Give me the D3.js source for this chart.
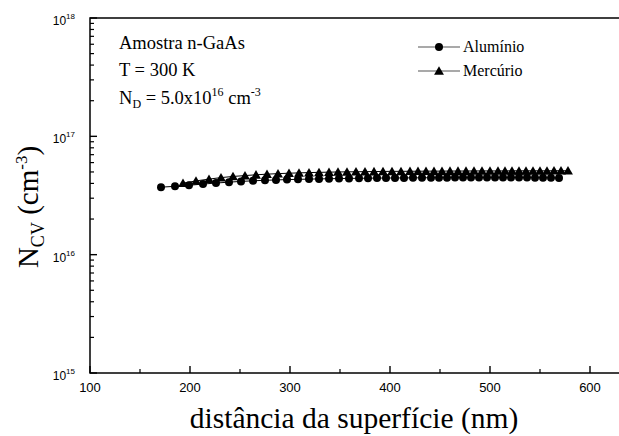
<!DOCTYPE html>
<html>
<head>
<meta charset="utf-8">
<script src="https://cdn.jsdelivr.net/npm/d3@7/dist/d3.min.js"></script>
<style>
  html, body { margin: 0; padding: 0; background: #fff; }
  svg { display: block; }
</style>
</head>
<body>
<svg id="plot" width="619" height="436"></svg>
<script>
// C-V carrier profile, two Schottky contacts
const alDepth = [171, 185, 199, 213, 226, 239, 251, 263, 275, 286, 297, 308, 319, 329, 339, 349, 359, 369, 378, 387, 396, 405, 414, 423, 432, 441, 449, 457, 465, 473, 481, 489, 497, 505, 513, 521, 529, 537, 545, 553, 561, 569];
const alN = [3.72, 3.78, 3.86, 3.95, 4.03, 4.10, 4.16, 4.21, 4.25, 4.28, 4.31, 4.33, 4.35, 4.37, 4.38, 4.40, 4.41, 4.42, 4.43, 4.44, 4.44, 4.45, 4.45, 4.46, 4.46, 4.47, 4.47, 4.47, 4.48, 4.48, 4.48, 4.48, 4.49, 4.49, 4.49, 4.49, 4.48, 4.48, 4.47, 4.47, 4.46, 4.45];
const hgDepth = [193, 206, 219, 231, 243, 255, 266, 277, 288, 299, 309, 319, 329, 339, 348, 357, 366, 375, 384, 393, 402, 411, 420, 428, 436, 444, 452, 460, 468, 476, 484, 492, 500, 508, 515, 522, 529, 536, 543, 550, 557, 564, 571, 578];
const hgN = [4.02, 4.20, 4.35, 4.48, 4.58, 4.66, 4.73, 4.79, 4.84, 4.88, 4.91, 4.94, 4.96, 4.98, 5.00, 5.01, 5.02, 5.03, 5.04, 5.05, 5.06, 5.06, 5.07, 5.07, 5.08, 5.08, 5.08, 5.09, 5.09, 5.09, 5.10, 5.10, 5.10, 5.10, 5.10, 5.11, 5.11, 5.11, 5.11, 5.11, 5.11, 5.12, 5.12, 5.12];
const seriesNames = ['Alumínio', 'Mercúrio'];
const xTicks = [100, 200, 300, 400, 500, 600];
const xMinor = [150, 250, 350, 450, 550, 650];
const yExps = [15, 16, 17, 18];

const svg = d3.select('#plot');
const m = {left: 90, top: 18, bottom: 373, right: 640};
const x = d3.scaleLinear().domain([100, 650]).range([m.left, m.right]);
const y = d3.scaleLog().domain([1e15, 1e18]).range([m.bottom, m.top]);

const serif = 'Liberation Serif, Times New Roman, serif';
const sans = 'Liberation Sans, Arial, sans-serif';

const toPts = (xs, vs) => xs.map((d, i) => ({x: d, v: vs[i] * 1e16}));
const al = toPts(alDepth, alN);
const hg = toPts(hgDepth, hgN);

// frame (right side falls outside the picture, as in the scan)
svg.append('rect').attr('x', m.left).attr('y', m.top)
  .attr('width', m.right - m.left).attr('height', m.bottom - m.top)
  .attr('fill', 'none').attr('stroke', '#000').attr('stroke-width', 1.5);

// y ticks (inward), log minor ticks
const yMinor = [];
[15, 16, 17].forEach(e => { for (let k = 2; k <= 9; k++) yMinor.push(k * Math.pow(10, e)); });
svg.append('g').selectAll('line').data(yMinor).join('line')
  .attr('x1', m.left).attr('x2', m.left + 4)
  .attr('y1', d => y(d)).attr('y2', d => y(d))
  .attr('stroke', '#000').attr('stroke-width', 1.2);
svg.append('g').selectAll('line').data(yExps).join('line')
  .attr('x1', m.left).attr('x2', m.left + 7)
  .attr('y1', d => y(Math.pow(10, d))).attr('y2', d => y(Math.pow(10, d)))
  .attr('stroke', '#000').attr('stroke-width', 1.4);

const yl = svg.append('g').selectAll('text').data(yExps).join('text')
  .attr('x', m.left - 15).attr('y', d => y(Math.pow(10, d)) + 7)
  .attr('text-anchor', 'end')
  .attr('font-family', sans).attr('font-size', 12);
yl.append('tspan').text('10');
yl.append('tspan').attr('dy', -6).attr('font-size', 8).text(d => d);

// x ticks (inward)
svg.append('g').selectAll('line').data(xTicks).join('line')
  .attr('x1', d => x(d)).attr('x2', d => x(d))
  .attr('y1', m.bottom).attr('y2', m.bottom - 7)
  .attr('stroke', '#000').attr('stroke-width', 1.4);
svg.append('g').selectAll('line').data(xMinor).join('line')
  .attr('x1', d => x(d)).attr('x2', d => x(d))
  .attr('y1', m.bottom).attr('y2', m.bottom - 4)
  .attr('stroke', '#000').attr('stroke-width', 1.2);
svg.append('g').selectAll('text').data(xTicks).join('text')
  .attr('x', d => x(d)).attr('y', m.bottom + 19)
  .attr('text-anchor', 'middle')
  .attr('font-family', sans).attr('font-size', 13)
  .text(d => d);

// axis titles
svg.append('text').attr('x', 354).attr('y', 428)
  .attr('text-anchor', 'middle')
  .attr('font-family', serif).attr('font-size', 29.5)
  .text('distância da superfície (nm)');

const yt = svg.append('text')
  .attr('transform', 'translate(38,207) rotate(-90)')
  .attr('text-anchor', 'middle')
  .attr('font-family', serif).attr('font-size', 29);
yt.append('tspan').text('N');
yt.append('tspan').attr('dy', 6).attr('font-size', 18).text('CV');
yt.append('tspan').attr('dy', -6).text(' (cm');
yt.append('tspan').attr('dy', -11).attr('font-size', 17).text('-3');
yt.append('tspan').attr('dy', 11).text(')');

// annotation block
const note = svg.append('g').attr('font-family', serif).attr('font-size', 18.5);
note.append('text').attr('x', 119).attr('y', 49).text('Amostra n-GaAs');
note.append('text').attr('x', 119).attr('y', 76).text('T = 300 K');
const nd = note.append('text').attr('x', 119).attr('y', 104);
nd.append('tspan').text('N');
nd.append('tspan').attr('dy', 4).attr('font-size', 12).text('D');
nd.append('tspan').attr('dy', -4).text(' = 5.0x10');
nd.append('tspan').attr('dy', -8).attr('font-size', 12).text('16');
nd.append('tspan').attr('dy', 8).text(' cm');
nd.append('tspan').attr('dy', -8).attr('font-size', 12).text('-3');

// series
const line = d3.line().x(d => x(d.x)).y(d => y(d.v));
const tri = d3.symbol().type(d3.symbolTriangle).size(42);

svg.append('path').datum(al).attr('d', line)
  .attr('fill', 'none').attr('stroke', '#000').attr('stroke-width', 1);
svg.append('path').datum(hg).attr('d', line)
  .attr('fill', 'none').attr('stroke', '#000').attr('stroke-width', 1);

svg.append('g').selectAll('circle').data(al).join('circle')
  .attr('cx', d => x(d.x)).attr('cy', d => y(d.v)).attr('r', 4)
  .attr('fill', '#000');
svg.append('g').selectAll('path').data(hg).join('path')
  .attr('d', tri)
  .attr('transform', d => `translate(${x(d.x)},${y(d.v) + 1})`)
  .attr('fill', '#000');

// legend
const lg = svg.append('g');
const legY = [47, 71];
seriesNames.forEach((name, i) => {
  lg.append('line').attr('x1', 418).attr('x2', 460)
    .attr('y1', legY[i]).attr('y2', legY[i])
    .attr('stroke', '#555').attr('stroke-width', 1.2);
  if (i === 0) {
    lg.append('circle').attr('cx', 439).attr('cy', legY[i]).attr('r', 4).attr('fill', '#000');
  } else {
    lg.append('path').attr('d', tri).attr('transform', `translate(439,${legY[i] + 1})`).attr('fill', '#000');
  }
  lg.append('text').attr('x', 463).attr('y', legY[i] + 5)
    .attr('font-family', serif).attr('font-size', 16)
    .text(name);
});
</script>
</body>
</html>
